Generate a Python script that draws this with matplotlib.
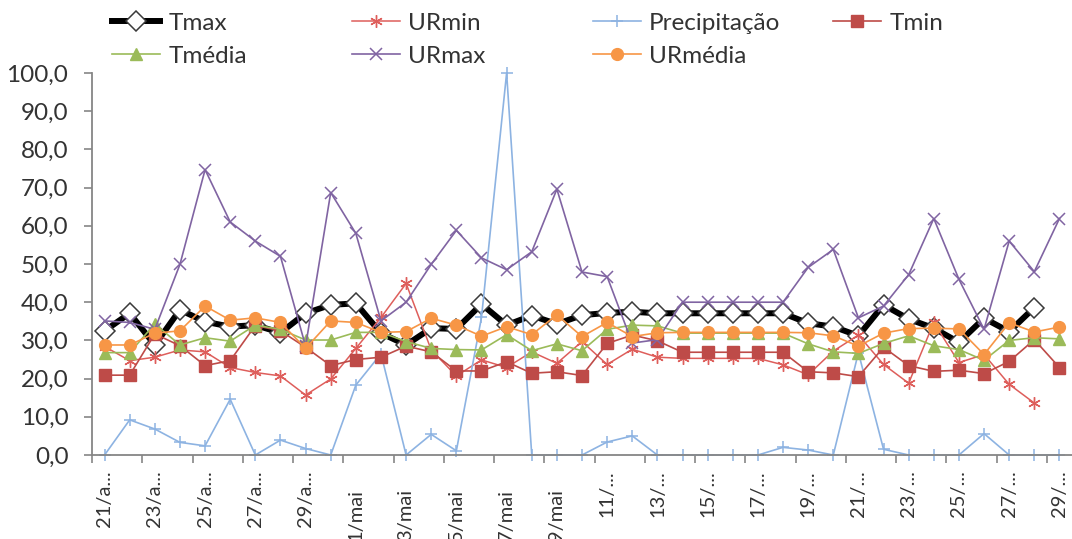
import numpy as np
import matplotlib.pyplot as plt
from matplotlib.transforms import ScaledTranslation

plt.rcParams['font.family'] = ['Lato', 'DejaVu Sans']

nan = np.nan

# dias do periodo (21/abr a 29/mai)
dias = ['%d/abr' % d for d in range(21, 31)] + ['%d/mai' % d for d in range(1, 30)]
rotulos = ['21/a...', '23/a...', '25/a...', '27/a...', '29/a...',
           '1/mai', '3/mai', '5/mai', '7/mai', '9/mai',
           '11/...', '13/...', '15/...', '17/...', '19/...',
           '21/...', '23/...', '25/...', '27/...', '29/...']
yticks = [0, 10, 20, 30, 40, 50, 60, 70, 80, 90, 100]
yrotulos = ['0,0', '10,0', '20,0', '30,0', '40,0', '50,0',
            '60,0', '70,0', '80,0', '90,0', '100,0']

tmax = [32.5, 37.1, 28.8, 38.0, 34.9, 33.6, 34.0, 32.0, 37.1, 39.3,
        39.7, 31.9, 28.8, 33.2, 33.0, 39.5, 34.0, 36.5, 34.3, 36.6,
        37.2, 37.5, 37.1, 37.1, 37.1, 37.1, 37.1, 37.1, 34.5, 33.6,
        31.2, 39.3, 35.6, 33.2, 29.5, 35.8, 32.3, 38.6, nan]
urmin = [28.4, 24.7, 25.6, 27.5, 27.0, 22.9, 21.6, 20.7, 15.7, 19.9,
         27.9, 36.0, 44.9, 27.5, 20.7, 24.9, 22.9, 27.0, 24.0, 29.7,
         23.7, 27.7, 25.6, 25.3, 25.3, 25.3, 25.3, 23.6, 21.0, 27.2,
         31.4, 23.7, 18.8, 34.7, 24.2, 26.3, 18.5, 13.6, nan]
precip = [0, 9.2, 6.8, 3.3, 2.4, 14.6, 0, 3.9, 1.7, 0,
          18.3, 26.5, 0, 5.4, 1.1, 36.0, 100.0, 0, 0, 0,
          3.4, 5.0, 0, 0, 0, 0, 0, 2.0, 1.3, 0,
          26.8, 1.5, 0, 0, 0, 5.6, 0, 0, 0]
tmin = [20.9, 20.9, 31.7, 28.6, 23.4, 24.7, 33.9, 32.5, 28.2, 23.4,
        25.0, 25.6, 28.5, 27.0, 22.0, 22.0, 24.4, 21.4, 21.8, 20.8,
        29.2, 31.4, 29.9, 26.9, 26.9, 26.9, 26.9, 26.9, 21.8, 21.5,
        20.5, 28.2, 23.4, 21.9, 22.2, 21.3, 24.5, 30.2, 22.9]
tmedia = [26.8, 26.8, 34.3, 28.8, 30.7, 29.8, 34.0, 32.9, 30.1, 30.1,
          32.1, 32.1, 29.7, 27.9, 27.6, 27.5, 31.5, 27.3, 29.1, 27.3,
          32.9, 34.0, 33.8, 31.9, 31.9, 31.9, 31.9, 31.9, 29.1, 27.0,
          26.6, 29.2, 31.2, 28.6, 27.6, 24.8, 30.0, 30.7, 30.4]
urmax = [35.1, 34.7, 32.9, 49.9, 74.7, 61.0, 56.0, 52.0, 28.5, 68.7,
         58.0, 35.1, 40.0, 49.9, 58.8, 51.6, 48.5, 53.2, 69.6, 47.9,
         46.7, 29.3, 30.2, 40.0, 40.0, 40.0, 40.0, 40.0, 49.1, 53.8,
         35.9, 39.0, 47.2, 61.9, 46.0, 32.9, 56.0, 48.0, 61.9]
urmedia = [28.8, 28.8, 31.9, 32.5, 39.0, 35.3, 35.9, 34.7, 27.9, 35.1,
           34.7, 32.1, 32.3, 35.8, 34.0, 31.1, 33.6, 31.5, 36.7, 31.0,
           34.7, 31.0, 32.0, 32.1, 32.1, 32.1, 32.1, 32.1, 32.0, 31.2,
           28.5, 31.9, 33.1, 33.2, 33.0, 26.3, 34.6, 32.2, 33.5]

x = np.arange(len(dias))

W, H = 1072, 539
fig = plt.figure(figsize=(W / 100, H / 100), dpi=100)
ax = fig.add_axes([92 / W, 1 - 455 / H, 1 - 92 / W, (455 - 73) / H])

asterisco = (6, 2, 0)
series = [
    ('Tmax', tmax, dict(color='black', lw=4.3, marker='D', ms=10, mfc='white', mec='#3a3a3a', mew=1.1)),
    ('URmin', urmin, dict(color='#DE5E5B', lw=1.1, marker=asterisco, ms=9, mec='#DE5E5B', mew=1.0)),
    ('Precipitação', precip, dict(color='#8DB3E2', lw=1.2, marker='+', ms=9, mew=1.1)),
    ('Tmin', tmin, dict(color='#BE4B48', lw=1.2, marker='s', ms=8.5)),
    ('Tmédia', tmedia, dict(color='#9BBB59', lw=1.2, marker='^', ms=8.5)),
    ('URmax', urmax, dict(color='#8064A2', lw=1.2, marker='x', ms=8, mew=1.1)),
    ('URmédia', urmedia, dict(color='#F79646', lw=1.2, marker='o', ms=8.5)),
]

handles = {}
for nome, valores, estilo in series:
    linha, = ax.plot(x, valores, label=nome, clip_on=False, **estilo)
    handles[nome] = linha

ax.set_xlim(-0.5, len(dias) - 0.5)
ax.set_ylim(0, 100)
ax.set_yticks(yticks)
ax.set_yticklabels(yrotulos)

# marcas entre categorias, rotulos a cada dois dias
ax.set_xticks(np.arange(-0.5, len(dias) - 1, 2))
ax.set_xticklabels([])
ax.set_xticks(x[::2], minor=True)
ax.set_xticklabels(rotulos, minor=True, rotation=90)
ax.tick_params(axis='x', which='major', length=6, width=1.2, color='#868686', direction='out')
ax.tick_params(axis='x', which='minor', length=0, pad=11, labelsize=14.5, labelcolor='#333333')
ax.tick_params(axis='y', length=6, width=1.2, color='#868686', pad=11, labelsize=17.5, labelcolor='#333333')

# rotulos de maio sem reticencias ficam mais abaixo
desce = ScaledTranslation(0, -19 / 100, fig.dpi_scale_trans)
for lab in ax.get_xticklabels(minor=True):
    if lab.get_text().endswith('mai'):
        lab.set_transform(lab.get_transform() + desce)

for lado in ['top', 'right']:
    ax.spines[lado].set_visible(False)
for lado in ['left', 'bottom']:
    ax.spines[lado].set_color('#868686')
    ax.spines[lado].set_linewidth(1.3)

# legenda em colunas de largura fixa
colunas = [['Tmax', 'Tmédia'], ['URmin', 'URmax'], ['Precipitação', 'URmédia'], ['Tmin']]
x_colunas = [112, 352, 593, 833]
for nomes, xc in zip(colunas, x_colunas):
    leg = fig.legend([handles[n] for n in nomes], nomes, loc='upper left',
                     bbox_to_anchor=(xc / W, 1 - 12.5 / H), frameon=False,
                     fontsize=17.5, handlelength=1.98, handletextpad=0.33,
                     labelspacing=0.5, borderpad=0, borderaxespad=0)
    for t in leg.get_texts():
        t.set_color('#333333')

fig.savefig('out.png', dpi=100)
